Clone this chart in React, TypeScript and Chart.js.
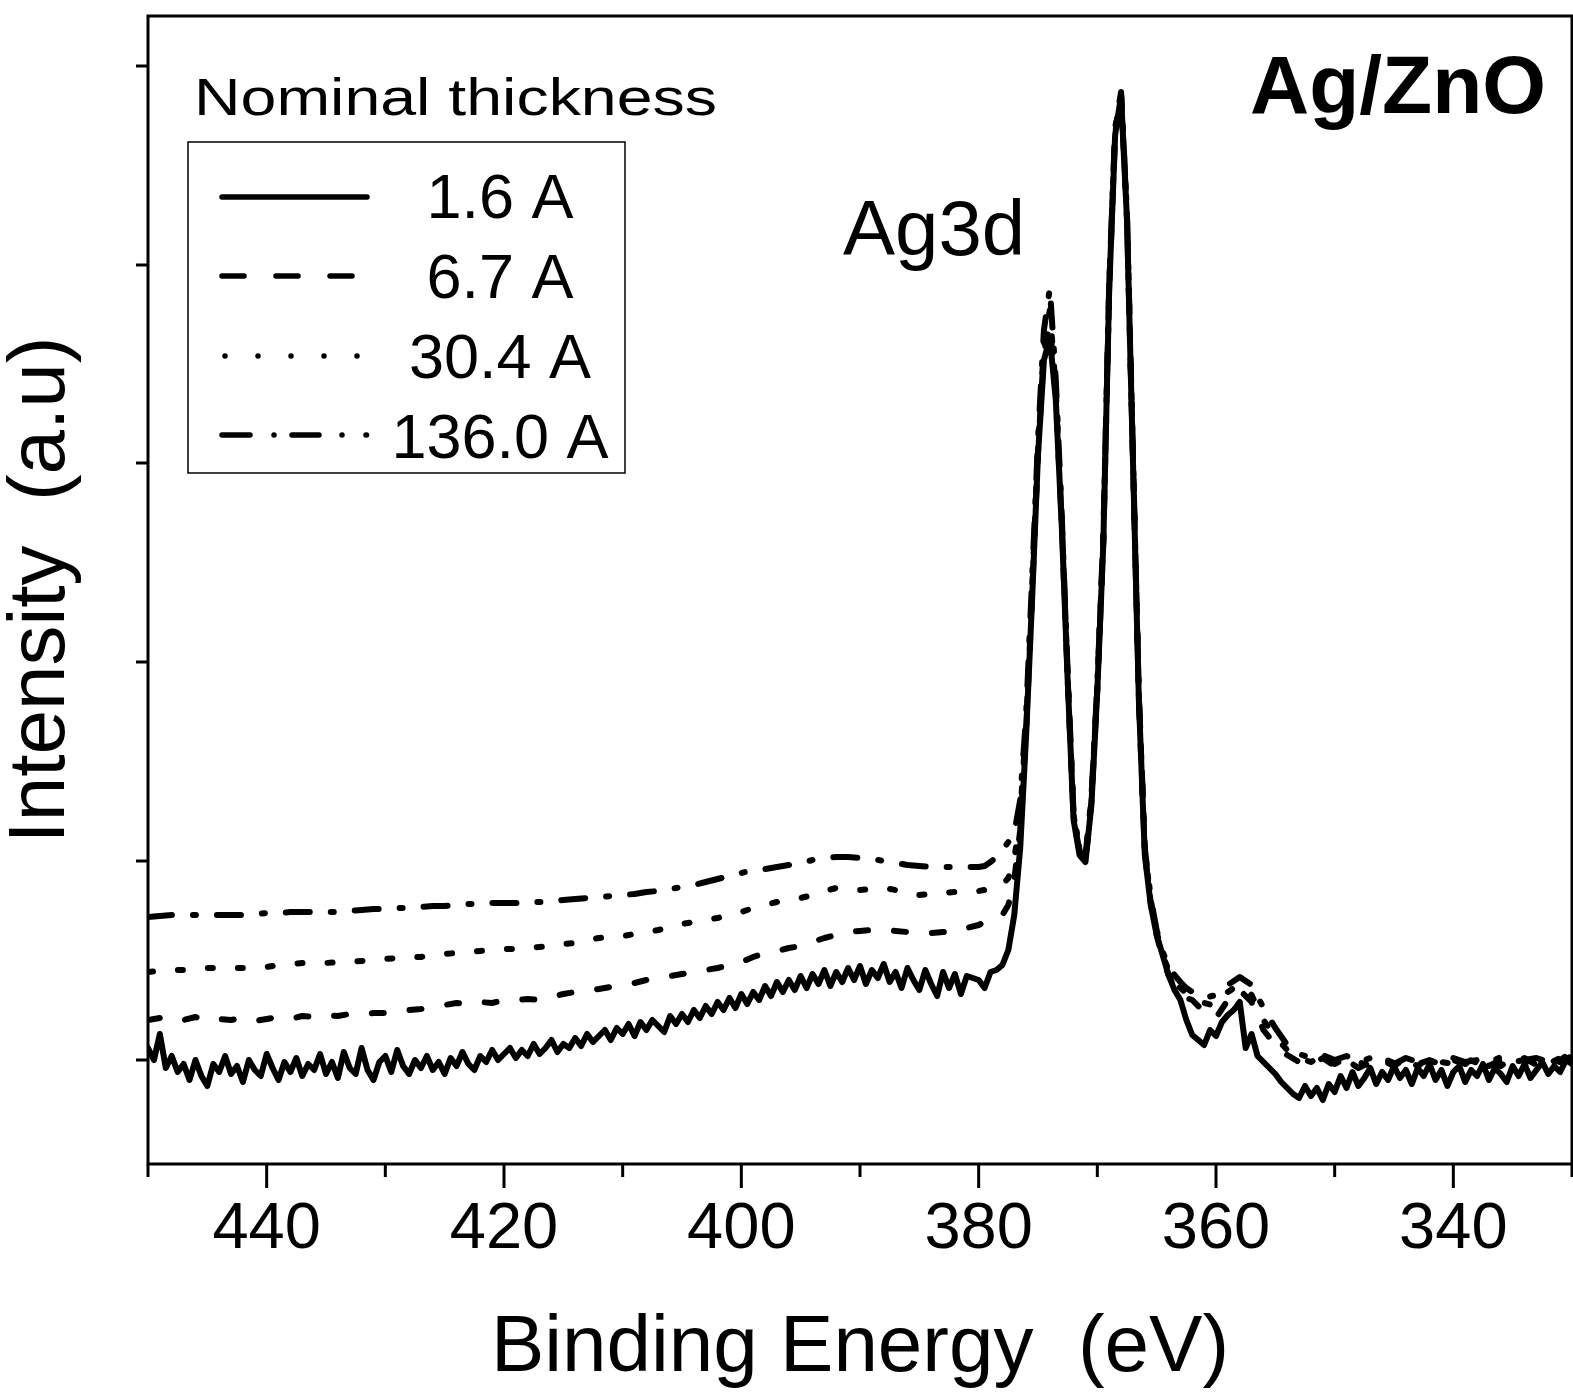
import { useEffect, useRef } from 'react';
import { Chart, registerables } from 'chart.js';

Chart.register(...registerables);

const FONT = '"Liberation Sans", Arial, Helvetica, sans-serif';

// Binding energy grid (eV) for the thicker films
const energies = [
  450, 449, 448, 447, 446, 445, 444, 443, 442, 441,
  440, 439, 438, 437, 436, 435, 434, 433, 432, 431,
  430, 429, 428, 427, 426, 425, 424, 423, 422, 421,
  420, 419, 418, 417, 416, 415, 414, 413, 412, 411,
  410, 409, 408, 407, 406, 405, 404, 403, 402, 401,
  400, 399, 398, 397, 396, 395, 394, 393, 392, 391,
  390, 389, 388, 387, 386, 385, 384, 383, 382, 381,
  380, 379.5, 379, 378.5, 378, 377.5, 377, 376.5, 376, 375.5,
  375, 374.5, 374, 373.5, 373, 372.5, 372, 371.5, 371, 370.5,
  370, 369.5, 369, 368.5, 368, 367.5, 367, 366.5, 366, 365.5,
  365, 364.5, 364, 363.5, 363, 362.5, 362,
  361, 360, 359, 358, 357, 356, 355, 354, 353, 352,
  351, 350, 349, 348, 347, 346, 345, 344, 343, 342,
  341, 340, 339, 338, 337, 336, 335, 334, 333, 332,
  331, 330,
];

// Finer binding energy grid (eV) for the noisy 1.6 A spectrum
const energiesFine = [
  450, 449.5, 449, 448.5, 448, 447.5, 447, 446.5, 446, 445.5,
  445, 444.5, 444, 443.5, 443, 442.5, 442, 441.5, 441, 440.5,
  440, 439.5, 439, 438.5, 438, 437.5, 437, 436.5, 436, 435.5,
  435, 434.5, 434, 433.5, 433, 432.5, 432, 431.5, 431, 430.5,
  430, 429.5, 429, 428.5, 428, 427.5, 427, 426.5, 426, 425.5,
  425, 424.5, 424, 423.5, 423, 422.5, 422, 421.5, 421, 420.5,
  420, 419.5, 419, 418.5, 418, 417.5, 417, 416.5, 416, 415.5,
  415, 414.5, 414, 413.5, 413, 412.5, 412, 411.5, 411, 410.5,
  410, 409.5, 409, 408.5, 408, 407.5, 407, 406.5, 406, 405.5,
  405, 404.5, 404, 403.5, 403, 402.5, 402, 401.5, 401, 400.5,
  400, 399.5, 399, 398.5, 398, 397.5, 397, 396.5, 396, 395.5,
  395, 394.5, 394, 393.5, 393, 392.5, 392, 391.5, 391, 390.5,
  390, 389.5, 389, 388.5, 388, 387.5, 387, 386.5, 386, 385.5,
  385, 384.5, 384, 383.5, 383, 382.5, 382, 381.5, 381,
  380, 379.5, 379, 378.5, 378, 377.5, 377, 376.5, 376, 375.5,
  375, 374.5, 374, 373.5, 373, 372.5, 372, 371.5, 371, 370.5,
  370, 369.5, 369, 368.5, 368, 367.5, 367, 366.5, 366, 365.5,
  365, 364.5, 364, 363.5, 363, 362.5, 362,
  361.5, 361, 360.5, 360, 359.5, 359, 358.5, 358, 357.5, 357,
  356.5, 356, 355.5, 355, 354.5, 354, 353.5, 353, 352.5, 352,
  351.5, 351, 350.5, 350, 349.5, 349, 348.5, 348, 347.5, 347,
  346.5, 346, 345.5, 345, 344.5, 344, 343.5, 343, 342.5, 342,
  341.5, 341, 340.5, 340, 339.5, 339, 338.5, 338, 337.5, 337,
  336.5, 336, 335.5, 335, 334.5, 334, 333.5, 333, 332.5, 332,
  331.5, 331, 330.5, 330,
];

// Intensity (a.u.) for each nominal thickness
const thk1_6 = [
  112, 100, 126, 92, 104, 88, 96, 80, 100, 84,
  74, 96, 88, 104, 86, 94, 78, 100, 90, 84,
  106, 92, 80, 98, 88, 102, 84, 96, 90, 106,
  86, 98, 82, 108, 92, 86, 112, 90, 80, 98,
  104, 88, 110, 94, 86, 100, 92, 104, 90, 98,
  86, 102, 94, 108, 96, 90, 104, 98, 110, 100,
  106, 112, 102, 110, 104, 116, 106, 112, 120, 108,
  116, 112, 122, 114, 126, 118, 124, 130, 120, 132,
  126, 136, 124, 138, 130, 140, 134, 128, 144, 136,
  146, 138, 150, 142, 154, 146, 158, 150, 162, 152,
  166, 156, 168, 160, 174, 164, 178, 168, 180, 170,
  184, 172, 186, 176, 190, 174, 188, 178, 192, 180,
  194, 176, 190, 182, 196, 178, 188, 172, 192, 180,
  170, 190, 176, 164, 188, 172, 186, 166, 184,
  180, 172, 188, 190, 195, 210, 245, 312, 425, 560,
  705, 800, 822, 760, 635, 480, 340, 305, 298, 355,
  470, 615, 870, 1025, 1064, 940, 700, 460, 305, 255,
  225, 205, 185, 170, 160, 140, 125,
  120, 115, 130, 124, 138, 145, 150, 158, 112, 126,
  104, 98, 92, 86, 78, 72, 66, 62, 74, 64,
  72, 60, 76, 68, 84, 72, 88, 74, 82, 92,
  76, 88, 80, 94, 82, 90, 76, 92, 84, 96,
  80, 90, 74, 88, 94, 78, 90, 84, 96, 80,
  92, 86, 78, 94, 84, 96, 82, 90, 98, 86,
  94, 88, 100, 96,
];

const thk6_7 = [
  140, 142, 138, 140, 143, 139, 141, 140, 142, 139,
  141, 143, 141, 144, 143, 145, 144, 146, 145, 147,
  147, 148, 150, 151, 153, 155, 157, 156, 158, 157,
  160, 160, 161, 160, 163, 166, 168, 170, 171, 173,
  175, 177, 180, 182, 184, 186, 188, 190, 192, 195,
  198, 203, 207, 209, 212, 214, 218, 222, 225, 228,
  229, 230, 230, 229, 228, 227, 227, 228, 228, 232,
  235, 238, 240, 242, 245, 255, 280, 330, 430, 565,
  708, 808, 835, 765, 638, 482, 342, 308, 300, 358,
  472, 617, 872, 1027, 1065, 942, 702, 462, 308, 257,
  225, 202, 185, 172, 167, 162, 160,
  148, 142, 160, 170, 158, 130, 115, 105, 98, 95,
  102, 94, 100, 92, 98, 100, 94, 102, 96, 100,
  93, 100, 96, 102, 94, 100, 97, 102, 95, 100,
  98, 104,
];

const thk30_4 = [
  188, 189, 190, 190, 191, 192, 192, 192, 192, 193,
  193, 195, 196, 197, 197, 197, 198, 198, 199, 200,
  201, 202, 203, 203, 205, 206, 207, 208, 209, 210,
  211, 211, 212, 213, 214, 216, 217, 220, 222, 223,
  224, 226, 228, 230, 233, 236, 238, 240, 242, 245,
  248, 252, 255, 258, 260, 262, 265, 269, 272, 271,
  270, 271, 272, 270, 268, 265, 266, 267, 268, 269,
  269, 270, 272, 273, 275, 282, 300, 345, 435, 570,
  712, 815, 850, 770, 640, 484, 344, 310, 302, 360,
  474, 620, 874, 1030, 1066, 944, 704, 464, 310, 260,
  228, 205, 190, 178, 172, 167, 165,
  157, 154, 168, 176, 165, 140, 123, 110, 102, 98,
  104, 96, 102, 98, 94, 102, 97, 100, 94, 102,
  98, 96, 102, 97, 100, 94, 102, 98, 100, 96,
  102, 105,
];

const thk136_0 = [
  243, 244, 245, 245, 245, 245, 245, 245, 245, 246,
  247, 247, 248, 248, 248, 248, 248, 249, 250, 251,
  251, 252, 252, 253, 254, 254, 255, 256, 256, 257,
  257, 257, 258, 258, 259, 260, 261, 262, 263, 264,
  265, 266, 268, 269, 271, 273, 275, 278, 281, 284,
  287, 290, 291, 293, 295, 297, 300, 302, 303, 303,
  302, 301, 299, 297, 295, 294, 293, 293, 293, 293,
  293, 294, 298, 303, 310, 318, 327, 360, 445, 580,
  720, 830, 872, 780, 645, 488, 346, 312, 304, 362,
  476, 622, 876, 1032, 1068, 946, 706, 466, 312, 262,
  230, 208, 195, 185, 178, 172, 168,
  162, 165, 175, 183, 175, 152, 132, 115, 106, 102,
  105, 100, 104, 98, 102, 100, 96, 102, 98, 100,
  95, 102, 98, 100, 97, 103, 98, 100, 102, 98,
  100, 108,
];

const seriesLabels = ['1.6 A', '6.7 A', '30.4 A', '136.0 A'];
const seriesValues = [thk1_6, thk6_7, thk30_4, thk136_0];
const seriesEnergies = [energiesFine, energies, energies, energies];
const yTickValues = [100, 299, 498, 697, 895, 1094];
const legendTitle = 'Nominal thickness';
const sampleLabel = 'Ag/ZnO';
const peakLabel = 'Ag3d';

const lineDashes = [[], [12, 26], [5, 25], [24, 21, 3, 21]];
const legendDashes = [[], [22, 32], [0, 33], [28, 24, 0, 18, 27, 23, 0, 24, 0.5, 200]];

const decor = {
  id: 'decor',
  afterDraw(chart: any) {
    const { ctx, chartArea: a, scales } = chart;
    const xs = scales.x;
    const ys = scales.y;
    ctx.save();
    ctx.strokeStyle = '#000';
    ctx.fillStyle = '#000';
    ctx.lineWidth = 3;
    ctx.lineCap = 'butt';
    ctx.setLineDash([]);
    ctx.strokeRect(a.left, a.top, a.right - a.left, a.bottom - a.top);
    ctx.beginPath();
    xs.ticks.forEach((t: any) => {
      const px = xs.getPixelForValue(t.value);
      const len = t.value % 20 === 0 ? 24 : 13;
      ctx.moveTo(px, a.bottom);
      ctx.lineTo(px, a.bottom + len);
    });
    yTickValues.forEach((v) => {
      const py = ys.getPixelForValue(v);
      ctx.moveTo(a.left - 12, py);
      ctx.lineTo(a.left, py);
    });
    ctx.stroke();

    // sample label
    ctx.textBaseline = 'alphabetic';
    ctx.font = `bold 82px ${FONT}`;
    ctx.textAlign = 'right';
    ctx.fillText(sampleLabel, 1546, 113);

    // peak label
    ctx.font = `78px ${FONT}`;
    ctx.textAlign = 'left';
    ctx.fillText(peakLabel, 843, 255);

    // legend title (horizontally stretched as in the original)
    ctx.font = `52px ${FONT}`;
    const w = ctx.measureText(legendTitle).width;
    ctx.save();
    ctx.translate(194, 115);
    ctx.scale(523 / w, 1);
    ctx.fillText(legendTitle, 0, 0);
    ctx.restore();

    // legend box
    ctx.lineWidth = 1.5;
    ctx.strokeRect(188, 142, 437, 331);

    const rowY = [197, 276, 356, 435];
    const textY = [218, 298, 378, 458];
    chart.data.datasets.forEach((ds: any, i: number) => {
      ctx.beginPath();
      ctx.lineWidth = 5.5;
      ctx.lineCap = 'round';
      ctx.setLineDash(legendDashes[i]);
      const x0 = i === 2 ? 225 : 222;
      const x1 = i === 3 ? 372 : 367;
      ctx.moveTo(x0, rowY[i]);
      ctx.lineTo(x1, rowY[i]);
      ctx.stroke();
      ctx.setLineDash([]);
      ctx.font = `63px ${FONT}`;
      ctx.textAlign = 'center';
      ctx.fillText(ds.label, 500, textY[i]);
    });
    ctx.restore();
  },
};

export default function App() {
  const ref = useRef<HTMLCanvasElement>(null);
  useEffect(() => {
    if (!ref.current) return;
    Chart.defaults.color = '#000';
    Chart.defaults.font.family = FONT;
    const chart = new Chart(ref.current, {
      type: 'line',
      data: {
        datasets: seriesLabels.map((label, i) => ({
          label,
          data: seriesEnergies[i].map((e, j) => ({ x: e, y: seriesValues[i][j] })),
          borderColor: '#000',
          borderWidth: 6,
          borderDash: lineDashes[i],
          borderCapStyle: 'round',
          borderJoinStyle: 'round',
          pointRadius: 0,
          fill: false,
          tension: 0,
        })),
      },
      options: {
        responsive: false,
        animation: false,
        devicePixelRatio: 1,
        layout: { padding: { left: 0, right: 1, top: 16, bottom: 0 } },
        plugins: { legend: { display: false }, tooltip: { enabled: false } },
        scales: {
          x: {
            type: 'linear',
            min: 330,
            max: 450,
            reverse: true,
            grid: { display: false, drawTicks: false },
            border: { display: false },
            ticks: {
              stepSize: 10,
              autoSkip: false,
              maxRotation: 0,
              padding: 27,
              color: '#000',
              font: { size: 65, family: FONT, lineHeight: 1.2 },
              callback: (v: any) => (Number(v) % 20 === 0 ? String(v) : ''),
            },
            title: {
              display: true,
              text: 'Binding Energy  (eV)',
              color: '#000',
              padding: 0,
              font: { size: 80, family: FONT, lineHeight: 1.1 },
            },
            afterFit: (s: any) => {
              s.height = 229;
              s.paddingLeft = 0;
              s.paddingRight = 0;
            },
          },
          y: {
            type: 'linear',
            min: -4,
            max: 1144,
            grid: { display: false, drawTicks: false },
            border: { display: false },
            ticks: { display: false },
            title: {
              display: true,
              text: 'Intensity  (a.u)',
              color: '#000',
              padding: 0,
              font: { size: 80, family: FONT, lineHeight: 1.05 },
            },
            afterFit: (s: any) => {
              s.width = 148;
              s.paddingTop = 0;
              s.paddingBottom = 0;
            },
          },
        },
      },
      plugins: [decor],
    } as any);
    return () => chart.destroy();
  }, []);
  return (
    <div style={{ position: 'fixed', left: 0, top: 0, width: 1573, height: 1393, background: '#fff' }}>
      <canvas ref={ref} width={1573} height={1393} style={{ display: 'block', width: 1573, height: 1393 }} />
    </div>
  );
}
